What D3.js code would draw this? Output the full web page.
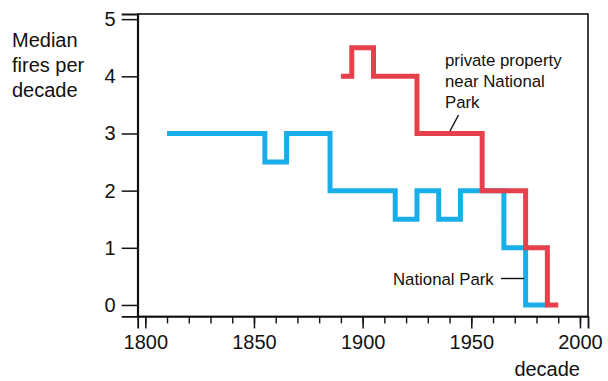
<!DOCTYPE html>
<html>
<head>
<meta charset="utf-8">
<script src="https://cdn.jsdelivr.net/npm/d3@7"></script>
<style>
  html, body { margin: 0; padding: 0; background: #fff; }
  svg { display: block; font-family: "Liberation Sans", Arial, sans-serif; }
</style>
</head>
<body>
<svg id="chart" width="608" height="381"></svg>
<script>
// Data
const parkYears   = [1810, 1855, 1865, 1885, 1915, 1925, 1935, 1945, 1965, 1975, 1985];
const parkValues  = [3, 2.5, 3, 2, 1.5, 2, 1.5, 2, 1, 0, 0];
const privYears   = [1890, 1895, 1905, 1925, 1955, 1975, 1985, 1990];
const privValues  = [4, 4.5, 4, 3, 2, 1, 0, 0];
const xTickLabels = [1800, 1850, 1900, 1950, 2000];
const yTickLabels = [0, 1, 2, 3, 4, 5];

const svg = d3.select("#chart");

const x = d3.scaleLinear().domain([1796.5, 2003.7]).range([137.7, 588]);
const y = d3.scaleLinear().domain([-0.2, 5.09]).range([316.4, 14]);

// frame
svg.append("rect")
  .attr("x", x(1796.5)).attr("y", y(5.09))
  .attr("width", x(2003.7) - x(1796.5)).attr("height", y(-0.2) - y(5.09))
  .attr("fill", "none").attr("stroke", "#111").attr("stroke-width", 1.6);

// y axis
const yAxis = d3.axisLeft(y).tickValues(yTickLabels).tickSize(16).tickPadding(6).tickFormat(d3.format("d"));
const gy = svg.append("g").attr("transform", `translate(${x(1796.5)},0)`).call(yAxis);
gy.select(".domain").attr("stroke", "#111").attr("stroke-width", 1.8);
gy.selectAll(".tick line").attr("stroke", "#111").attr("stroke-width", 1.5);
gy.selectAll(".tick text").attr("font-size", 20).attr("fill", "#111")
  .attr("font-family", "Liberation Sans, Arial, sans-serif");

// x axis minor ticks
const gxm = svg.append("g").attr("transform", `translate(0,${y(-0.2)})`)
  .call(d3.axisBottom(x).tickValues(d3.range(1800, 2001, 10)).tickSize(7).tickFormat(""));
gxm.select(".domain").remove();
gxm.selectAll(".tick line").attr("stroke", "#111").attr("stroke-width", 1.4);

// x axis major ticks
const gx = svg.append("g").attr("transform", `translate(0,${y(-0.2)})`)
  .call(d3.axisBottom(x).tickValues(xTickLabels).tickSize(12).tickPadding(6).tickFormat(d3.format("d")));
gx.select(".domain").attr("stroke", "#111").attr("stroke-width", 1.8);
gx.selectAll(".tick line").attr("stroke", "#111").attr("stroke-width", 1.5);
gx.selectAll(".tick text").attr("font-size", 20).attr("fill", "#111")
  .attr("font-family", "Liberation Sans, Arial, sans-serif");

// lines
const line = d3.line().x(d => x(d[0])).y(d => y(d[1])).curve(d3.curveStepAfter);
const parkData = parkYears.map((yr, i) => [yr, parkValues[i]]);
const privData = privYears.map((yr, i) => [yr, privValues[i]]);

svg.append("path").datum(parkData).attr("d", line)
  .attr("fill", "none").attr("stroke", "#19aee9").attr("stroke-width", 5)
  .attr("stroke-linejoin", "miter").attr("stroke-linecap", "butt");
svg.append("path").datum(privData).attr("d", line)
  .attr("fill", "none").attr("stroke", "#e5404c").attr("stroke-width", 5)
  .attr("stroke-linejoin", "miter").attr("stroke-linecap", "butt");

// y title
const yt = svg.append("text").attr("font-size", 20).attr("fill", "#111");
["Median", "fires per", "decade"].forEach((t, i) => {
  yt.append("tspan").attr("x", 12).attr("y", 47 + i * 25).text(t);
});

// x title
svg.append("text").attr("x", 580).attr("y", 376).attr("text-anchor", "end")
  .attr("font-size", 20).attr("fill", "#111").text("decade");

// annotations
const ann = svg.append("text").attr("font-size", 16.8).attr("fill", "#111");
["private property", "near National", "Park"].forEach((t, i) => {
  ann.append("tspan").attr("x", 445).attr("y", 66 + i * 21).text(t);
});
svg.append("line").attr("x1", 458.5).attr("y1", 115).attr("x2", 450).attr("y2", 131)
  .attr("stroke", "#111").attr("stroke-width", 1.4);

svg.append("text").attr("x", 393).attr("y", 285).attr("font-size", 16.8).attr("fill", "#111")
  .text("National Park");
svg.append("line").attr("x1", 501).attr("y1", 278.5).attr("x2", 524).attr("y2", 278.5)
  .attr("stroke", "#111").attr("stroke-width", 1.4);
</script>
</body>
</html>
